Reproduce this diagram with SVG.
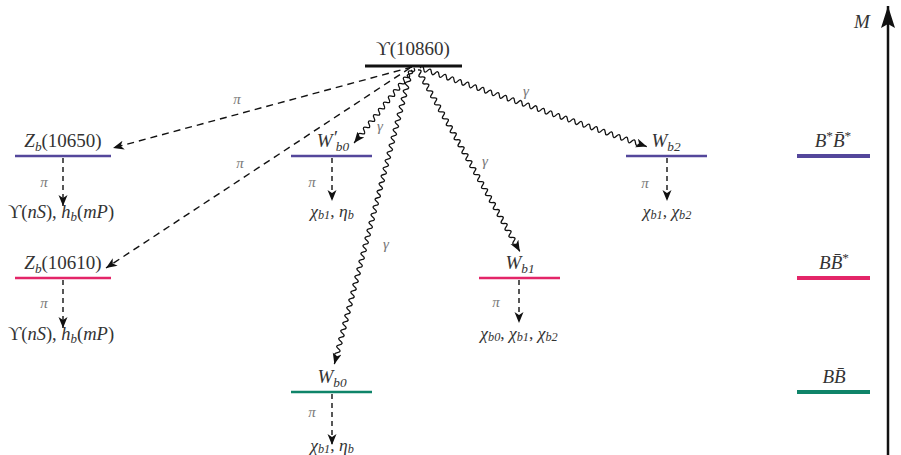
<svg xmlns="http://www.w3.org/2000/svg" width="901" height="455" viewBox="0 0 901 455" font-family="'DejaVu Serif','Liberation Serif',serif">
<style>
text{font-family:'Liberation Serif','DejaVu Serif',serif;fill:#333}
.big{font-size:19px;text-anchor:middle}
.sm{font-size:18.5px;text-anchor:middle}
.xs{font-size:17.5px;text-anchor:middle}
.lab{font-size:15px;font-style:italic;text-anchor:middle;fill:#777}
.i{font-style:italic}
.sub{font-size:70%}
.lvl{stroke-width:2.5}
.thr{stroke-width:4}
.purple{stroke:#54479b}
.pink{stroke:#e32568}
.teal{stroke:#0f8469}
.dash{fill:none;stroke:#111;stroke-width:1.4;stroke-dasharray:7,5;marker-end:url(#ah)}
.vdash{fill:none;stroke:#111;stroke-width:1.4;stroke-dasharray:5,4;marker-end:url(#ah)}
.wave{fill:none;stroke:#111;stroke-width:1.3;marker-end:url(#ah)}
</style>
<defs>
<marker id="ah" markerUnits="userSpaceOnUse" markerWidth="13" markerHeight="10" refX="11" refY="4.5" orient="auto">
<path d="M0,0 L11,4.5 L0,9 L3,4.5 z" fill="#111"/>
</marker>
<marker id="axh" markerUnits="userSpaceOnUse" markerWidth="24" markerHeight="16" refX="22" refY="7" orient="auto">
<path d="M0,0 L22,7 L0,14 L4,7 z" fill="#111"/>
</marker>
</defs>

<g id="axis">
<line x1="888" y1="455" x2="888" y2="6" stroke="#111" stroke-width="2.5" marker-end="url(#axh)"/>
<text x="862" y="28" class="i" style="font-size:19px;text-anchor:middle">M</text>
</g>

<g id="connectors">
<path class="dash" d="M412,67 L113,148"/>
<path class="dash" d="M410,68 L106,268"/>
<g transform="translate(414,68) rotate(128.6)">
<path class="wave" d="M0,0q2,-4.5 4,0t4,0 4,0 4,0 4,0 4,0 4,0 4,0 4,0 4,0 4,0 4,0 4,0 4,0 4,0 4,0 4,0 4,0 4,0 4,0 4,0 4,0l8,0"/>
</g>
<g transform="translate(411,70) rotate(104.6)">
<path class="wave" d="M0,0q2,-4.5 4,0t4,0 4,0 4,0 4,0 4,0 4,0 4,0 4,0 4,0 4,0 4,0 4,0 4,0 4,0 4,0 4,0 4,0 4,0 4,0 4,0 4,0 4,0 4,0 4,0 4,0 4,0 4,0 4,0 4,0 4,0 4,0 4,0 4,0 4,0 4,0 4,0 4,0 4,0 4,0 4,0 4,0 4,0 4,0 4,0 4,0 4,0 4,0 4,0 4,0 4,0 4,0 4,0 4,0 4,0 4,0 4,0 4,0 4,0 4,0 4,0 4,0 4,0 4,0 4,0 4,0 4,0 4,0 4,0 4,0 4,0 4,0 4,0 4,0l8,0"/>
</g>
<g transform="translate(418,70) rotate(60.7)">
<path class="wave" d="M0,0q2,-4.5 4,0t4,0 4,0 4,0 4,0 4,0 4,0 4,0 4,0 4,0 4,0 4,0 4,0 4,0 4,0 4,0 4,0 4,0 4,0 4,0 4,0 4,0 4,0 4,0 4,0 4,0 4,0 4,0 4,0 4,0 4,0 4,0 4,0 4,0 4,0 4,0 4,0 4,0 4,0 4,0 4,0 4,0 4,0 4,0 4,0 4,0 4,0 4,0 4,0 4,0l8,0"/>
</g>
<g transform="translate(420,68) rotate(19.1)">
<path class="wave" d="M0,0q2,-4.5 4,0t4,0 4,0 4,0 4,0 4,0 4,0 4,0 4,0 4,0 4,0 4,0 4,0 4,0 4,0 4,0 4,0 4,0 4,0 4,0 4,0 4,0 4,0 4,0 4,0 4,0 4,0 4,0 4,0 4,0 4,0 4,0 4,0 4,0 4,0 4,0 4,0 4,0 4,0 4,0 4,0 4,0 4,0 4,0 4,0 4,0 4,0 4,0 4,0 4,0 4,0 4,0 4,0 4,0 4,0 4,0 4,0 4,0l8,0"/>
</g>
<path class="vdash" d="M63,158 L63,206"/>
<path class="vdash" d="M63,280 L63,328"/>
<path class="vdash" d="M332,158 L332,201"/>
<path class="vdash" d="M667,158 L667,201"/>
<path class="vdash" d="M519,280 L519,323"/>
<path class="vdash" d="M332,394 L332,445"/>
<text class="lab" x="237" y="104">π</text>
<text class="lab" x="240" y="168">π</text>
<text class="lab" x="380" y="131">γ</text>
<text class="lab" x="386" y="249">γ</text>
<text class="lab" x="485" y="166">γ</text>
<text class="lab" x="526" y="96">γ</text>
<text class="lab" x="44" y="187">π</text>
<text class="lab" x="44" y="308">π</text>
<text class="lab" x="312" y="187">π</text>
<text class="lab" x="645" y="188">π</text>
<text class="lab" x="496" y="307">π</text>
<text class="lab" x="312" y="417">π</text>
</g>

<g id="Y10860">
<line x1="365" y1="66" x2="462" y2="66" stroke="#111" stroke-width="3"/>
<text class="big" x="413" y="55">ϒ(10860)</text>
</g>

<g id="Zb10650">
<line class="lvl purple" x1="15" y1="156" x2="111" y2="156"/>
<text class="big" x="63" y="147"><tspan class="i">Z</tspan><tspan class="i sub" dy="4">b</tspan><tspan dy="-4">(10650)</tspan></text>
<text class="sm" x="61" y="218">ϒ(<tspan class="i">nS</tspan>), <tspan class="i">h</tspan><tspan class="i sub" dy="3">b</tspan><tspan dy="-3">(</tspan><tspan class="i">mP</tspan>)</text>
</g>

<g id="Zb10610">
<line class="lvl pink" x1="15" y1="278" x2="111" y2="278"/>
<text class="big" x="63" y="269"><tspan class="i">Z</tspan><tspan class="i sub" dy="4">b</tspan><tspan dy="-4">(10610)</tspan></text>
<text class="sm" x="61" y="340">ϒ(<tspan class="i">nS</tspan>), <tspan class="i">h</tspan><tspan class="i sub" dy="3">b</tspan><tspan dy="-3">(</tspan><tspan class="i">mP</tspan>)</text>
</g>

<g id="Wb0prime">
<line class="lvl purple" x1="291" y1="156" x2="372" y2="156"/>
<text class="big" x="333" y="147"><tspan class="i">W</tspan><tspan class="i" dy="-3">′</tspan><tspan class="i sub" dx="-1" dy="7">b0</tspan></text>
<text class="xs" x="332" y="217"><tspan class="i">χ</tspan><tspan class="i sub" dy="2">b1</tspan><tspan dy="-2">, </tspan><tspan class="i">η</tspan><tspan class="i sub" dy="2">b</tspan></text>
</g>

<g id="Wb2">
<line class="lvl purple" x1="626" y1="156" x2="707" y2="156"/>
<text class="big" x="666" y="147"><tspan class="i">W</tspan><tspan class="i sub" dy="4">b2</tspan></text>
<text class="xs" x="667" y="217"><tspan class="i">χ</tspan><tspan class="i sub" dy="2">b1</tspan><tspan dy="-2">, </tspan><tspan class="i">χ</tspan><tspan class="i sub" dy="2">b2</tspan></text>
</g>

<g id="Wb1">
<line class="lvl pink" x1="479" y1="278" x2="560" y2="278"/>
<text class="big" x="520" y="269"><tspan class="i">W</tspan><tspan class="i sub" dy="4">b1</tspan></text>
<text class="xs" x="519" y="339"><tspan class="i">χ</tspan><tspan class="i sub" dy="2">b0</tspan><tspan dy="-2">, </tspan><tspan class="i">χ</tspan><tspan class="i sub" dy="2">b1</tspan><tspan dy="-2">, </tspan><tspan class="i">χ</tspan><tspan class="i sub" dy="2">b2</tspan></text>
</g>

<g id="Wb0">
<line class="lvl teal" x1="291" y1="392" x2="372" y2="392"/>
<text class="big" x="332" y="383"><tspan class="i">W</tspan><tspan class="i sub" dy="4">b0</tspan></text>
<text class="xs" x="332" y="451"><tspan class="i">χ</tspan><tspan class="i sub" dy="2">b1</tspan><tspan dy="-2">, </tspan><tspan class="i">η</tspan><tspan class="i sub" dy="2">b</tspan></text>
</g>

<g id="BstarBbarstar">
<line class="thr purple" x1="797" y1="156" x2="870" y2="156"/>
<text class="big" x="833" y="147"><tspan class="i">B</tspan><tspan class="sub" dy="-7">*</tspan><tspan class="i" dy="7">B̄</tspan><tspan class="sub" dy="-7">*</tspan></text>
</g>

<g id="BBbarstar">
<line class="thr pink" x1="797" y1="278" x2="870" y2="278"/>
<text class="big" x="834" y="269"><tspan class="i">B</tspan><tspan class="i">B̄</tspan><tspan class="sub" dy="-7">*</tspan></text>
</g>

<g id="BBbar">
<line class="thr teal" x1="797" y1="392" x2="870" y2="392"/>
<text class="big" x="834" y="383"><tspan class="i">B</tspan><tspan class="i">B̄</tspan></text>
</g>
</svg>
